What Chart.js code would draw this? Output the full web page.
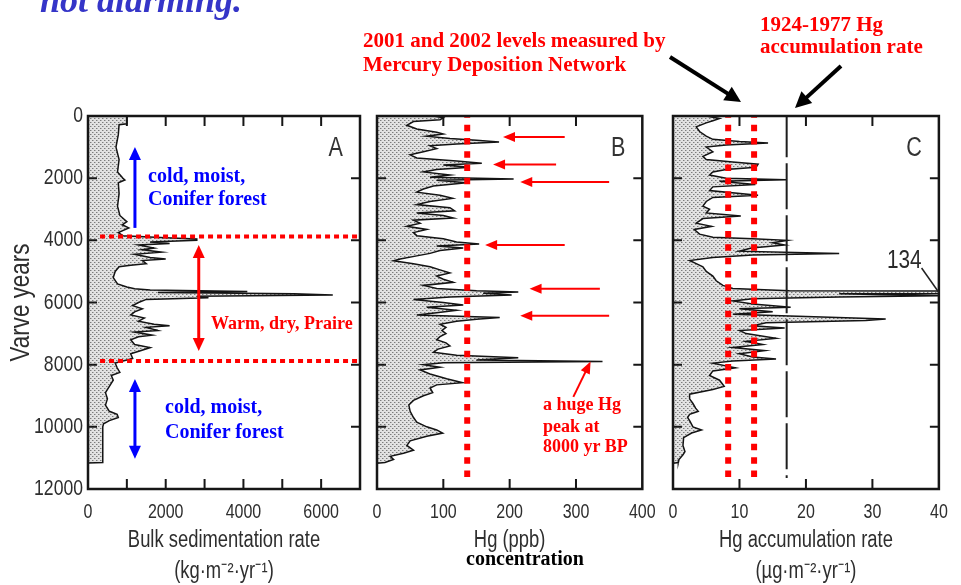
<!DOCTYPE html>
<html>
<head>
<meta charset="utf-8">
<script src="https://cdn.jsdelivr.net/npm/chart.js@4.4.0/dist/chart.umd.min.js"></script>
<style>
  body { margin: 0; background: #fff; }
  #page { position: relative; width: 961px; height: 585px; overflow: hidden; background: #fff; }
  #page canvas { position: absolute; top: 0; }
  .note { position: absolute; white-space: nowrap; line-height: 1;
          font-family: "Liberation Serif", "Times New Roman", serif; font-weight: bold; }
  .red { color: #ff0000; }
  .blue { color: #0000ff; }
</style>
</head>
<body>
<div id="page">
  <canvas id="coreA" width="374" height="585" style="left:0"></canvas>
  <canvas id="coreB" width="310" height="585" style="left:360px"></canvas>
  <canvas id="coreC" width="306" height="585" style="left:655px"></canvas>
  <canvas id="marks" width="961" height="585" style="left:0;pointer-events:none"></canvas>

  <div class="note" style="left:40px;top:-18px;font-size:36px;font-style:italic;color:#3535c8">not alarming.</div>

  <div class="note red" style="left:363px;top:30px;font-size:21px">2001 and 2002 levels measured by</div>
  <div class="note red" style="left:363px;top:54px;font-size:21px">Mercury Deposition Network</div>
  <div class="note red" style="left:760px;top:14px;font-size:21px">1924-1977 Hg</div>
  <div class="note red" style="left:760px;top:36px;font-size:21px">accumulation rate</div>

  <div class="note blue" style="left:148px;top:165px;font-size:20px">cold, moist,</div>
  <div class="note blue" style="left:148px;top:188px;font-size:20px">Conifer forest</div>
  <div class="note red" style="left:211px;top:314px;font-size:18px">Warm, dry, Praire</div>
  <div class="note blue" style="left:165px;top:396px;font-size:20px">cold, moist,</div>
  <div class="note blue" style="left:165px;top:421px;font-size:20px">Conifer forest</div>

  <div class="note red" style="left:543px;top:395px;font-size:18px">a huge Hg</div>
  <div class="note red" style="left:543px;top:417px;font-size:18px">peak at</div>
  <div class="note red" style="left:543px;top:437px;font-size:18px">8000 yr BP</div>

  <div class="note" style="left:525px;top:548px;font-size:20px;color:#000;transform:translateX(-50%)">concentration</div>
</div>

<script>
const SANS = "'Liberation Sans Narrow', 'Arial Narrow', 'Liberation Sans', Arial, sans-serif";
const INK = "#2e2e2e";

// ---- depth axis (varve years) ----
const innerYearTicks = [2000, 4000, 6000, 8000, 10000];

// ---- A: bulk sedimentation rate, kg m-2 yr-1 ----
const sedYears = [
  0, 250, 280, 600, 1000, 1400, 1800, 2000, 2060, 2150,
  2500, 2900, 3200, 3400, 3500, 3600, 3750, 3850, 3920, 3960,
  4000, 4050, 4100, 4150, 4250, 4300, 4380, 4450, 4550, 4600,
  4650, 4750, 4800, 4850, 5000, 5200, 5400, 5500, 5560, 5600,
  5650, 5680, 5720, 5760, 5800, 5850, 5900, 6000, 6100, 6200,
  6300, 6400, 6500, 6600, 6700, 6750, 6800, 6900, 6950, 7050,
  7100, 7200, 7350, 7450, 7550, 7650, 7800, 7880, 7950, 8100,
  8250, 8350, 8500, 8700, 8900, 9100, 9300, 9500, 9600, 9700,
  9800, 9900, 10000, 10500, 11000, 11150, 11160
];
const sedRate = [
  1000, 1000, 800, 780, 720, 800, 760, 900, 950, 780,
  800, 760, 820, 1000, 880, 1050, 780, 900, 2000, 2800,
  2800, 1600, 2100, 1300, 1700, 1400, 1900, 1200, 1600, 2000,
  1400, 1500, 1100, 800, 700, 650, 760, 1000, 1200, 1600,
  4100, 1800, 5300, 6300, 2800, 3100, 1500, 1300, 1150, 1400,
  1200, 1100, 1450, 1300, 1700, 2100, 1500, 1800, 1200, 1650,
  1300, 1100, 1200, 1600, 1350, 1100, 1150, 900, 700, 750,
  820, 600, 650, 550, 450, 500, 450, 550, 750, 780,
  550, 400, 380, 380, 380, 380, 0
];

// ---- B: Hg concentration, ppb ----
const hgYears = [
  0, 60, 120, 180, 300, 420, 520, 580, 650, 720,
  780, 840, 900, 960, 1050, 1150, 1250, 1350, 1450, 1520,
  1580, 1650, 1720, 1800, 1900, 1970, 2030, 2070, 2150, 2250,
  2350, 2450, 2550, 2650, 2750, 2850, 2950, 3050, 3120, 3200,
  3280, 3350, 3450, 3550, 3650, 3750, 3850, 3950, 4050, 4120,
  4180, 4250, 4330, 4420, 4500, 4600, 4660, 4750, 4850, 4950,
  5050, 5150, 5250, 5350, 5450, 5550, 5620, 5660, 5700, 5760,
  5820, 5900, 6000, 6080, 6150, 6250, 6330, 6400, 6480, 6540,
  6600, 6700, 6800, 6900, 7000, 7100, 7200, 7300, 7400, 7500,
  7600, 7700, 7780, 7850, 7900, 7940, 8000, 8080, 8170, 8300,
  8450, 8580, 8650, 8750, 8900, 9000, 9150, 9300, 9500, 9700,
  9850, 10000, 10100, 10200, 10300, 10450, 10600, 10750, 10850, 10950,
  11050, 11150, 11170
];
const hgPpb = [
  85, 100, 95, 55, 45, 60, 90, 100, 75, 110,
  150, 184, 120, 80, 90, 70, 50, 60, 120, 158,
  100, 140, 90, 70, 110, 80, 206, 90, 135, 85,
  70, 60, 95, 114, 80, 60, 110, 117, 60, 100,
  115, 55, 65, 45, 75, 55, 60, 100, 120, 154,
  90, 130, 95, 80, 60, 35, 25, 55, 80, 95,
  110, 90, 100, 115, 70, 90, 150, 213, 160, 203,
  110, 55, 100, 130, 75, 120, 90, 60, 185, 150,
  120, 95, 104, 98, 104, 95, 90, 104, 110, 92,
  85, 120, 213, 150, 340, 100, 70, 95, 65, 80,
  105, 129, 90, 80, 84, 70, 55, 48, 50, 55,
  60, 75, 90, 99, 75, 50, 45, 55, 40, 20,
  25, 12, 0
];

// ---- C: Hg accumulation rate, ug m-2 yr-1 ----
const fluxYears = [
  0, 80, 150, 220, 350, 500, 650, 750, 820, 870,
  930, 1000, 1150, 1300, 1400, 1480, 1550, 1650, 1720, 1800,
  1900, 2000, 2050, 2100, 2200, 2280, 2400, 2550, 2620, 2750,
  2900, 3000, 3120, 3220, 3300, 3450, 3550, 3650, 3800, 3900,
  3950, 4000, 4080, 4150, 4250, 4350, 4420, 4470, 4550, 4650,
  4750, 4850, 5000, 5150, 5300, 5450, 5550, 5620, 5680, 5720,
  5780, 5820, 5880, 5950, 6050, 6150, 6200, 6300, 6380, 6450,
  6530, 6580, 6650, 6750, 6820, 6900, 7000, 7150, 7250, 7350,
  7450, 7550, 7650, 7750, 7820, 7880, 7950, 8100, 8200, 8350,
  8500, 8700, 8800, 8950, 9100, 9250, 9400, 9500, 9600, 9700,
  9800, 10000, 10100, 10200, 10350, 10600, 10800, 10900, 11050, 11150,
  11170
];
const hgFlux = [
  5, 7, 6, 5, 3.5, 4, 5, 6, 10, 14.3,
  8, 5, 6, 4.5, 5, 9, 12.8, 12.5, 8, 6,
  5.5, 8, 17, 7, 12.4, 6, 5.5, 12.8, 6, 5,
  4.5, 5.5, 5, 10.2, 4.5, 3.5, 5.8, 3.2, 4, 6,
  12, 17.2, 15, 16.8, 11.8, 10, 25, 12, 6, 2.5,
  3.5, 4.5, 5, 6, 6.5, 7.5, 9, 17.5, 134, 25,
  40, 25, 12, 9, 12, 17.7, 10, 15, 9, 20,
  32, 29, 14, 12, 16.8, 10, 11, 15.5, 11, 13.5,
  9, 13.8, 10, 12, 15.5, 9, 6, 9.4, 6, 5.5,
  7, 7.7, 6, 2.5, 2.5, 3, 3.4, 3.8, 2.5, 2.2,
  2.5, 3, 4.3, 2.8, 1.6, 1.5, 1.8, 1.5, 0.9, 0.8,
  0
];

// ---- reference levels ----
const prairieBounds = [3880, 7880];  // years BP, dry interval
const mdnPpb = 136;                  // MDN 2001-2002 concentration
const mdnFlux = [8.3, 12.2];         // MDN 2001-2002 deposition
const histFlux = 17.1;               // 1924-1977 accumulation

// ---------- helpers ----------
const zip = (ys, vs) => ys.map((y, i) => ({ x: vs[i], y }));

// squeeze every label drawn on a canvas horizontally (narrow figure lettering)
function condense(canvas, k) {
  const ctx = canvas.getContext("2d");
  const fill = ctx.fillText.bind(ctx);
  ctx.fillText = function (t, x, y, w) {
    this.save();
    this.translate(x, y);
    this.scale(k, 1);
    if (w === undefined) fill(t, 0, 0); else fill(t, 0, 0, w / k);
    this.restore();
  };
}

function stipple(canvas) {
  const tile = document.createElement("canvas");
  tile.width = 4; tile.height = 4;
  const g = tile.getContext("2d");
  g.fillStyle = "#e2e2e2"; g.fillRect(0, 0, 4, 4);
  g.fillStyle = "#7c7c7c"; g.fillRect(0, 0, 1, 1); g.fillRect(2, 2, 1, 1);
  g.fillStyle = "#b4b4b4"; g.fillRect(1, 0, 1, 1); g.fillRect(3, 2, 1, 1);
  return canvas.getContext("2d").createPattern(tile, "repeat");
}

function profile(canvas, ys, vs) {
  return {
    data: zip(ys, vs), order: 2,
    borderColor: "#141414", borderWidth: 1.5,
    backgroundColor: stipple(canvas), fill: "origin",
    pointRadius: 0, tension: 0
  };
}

function refLine(points, color, width, dash) {
  return {
    data: points, order: 1, fill: false, pointRadius: 0,
    borderColor: color, borderWidth: width, borderDash: dash, borderCapStyle: "butt"
  };
}

function head(ctx, x, y, ang, len, half) {
  ctx.beginPath();
  ctx.moveTo(x, y);
  ctx.lineTo(x - len * Math.cos(ang) + half * Math.sin(ang), y - len * Math.sin(ang) - half * Math.cos(ang));
  ctx.lineTo(x - len * Math.cos(ang) - half * Math.sin(ang), y - len * Math.sin(ang) + half * Math.cos(ang));
  ctx.closePath();
  ctx.fill();
}

function arrow(ctx, x0, y0, x1, y1, o) {
  const ang = Math.atan2(y1 - y0, x1 - x0);
  const c = Math.cos(ang), s = Math.sin(ang), k = o.len * 0.8;
  ctx.strokeStyle = o.color; ctx.fillStyle = o.color; ctx.lineWidth = o.width;
  ctx.beginPath();
  ctx.moveTo(o.both ? x0 + c * k : x0, o.both ? y0 + s * k : y0);
  ctx.lineTo(x1 - c * k, y1 - s * k);
  ctx.stroke();
  head(ctx, x1, y1, ang, o.len, o.half);
  if (o.both) head(ctx, x0, y0, ang + Math.PI, o.len, o.half);
}

// box, inward ticks and panel letter
const framePlugin = {
  id: "frame",
  afterDatasetsDraw(chart, args, opts) {
    const { ctx, chartArea: a, scales: { x, y } } = chart;
    ctx.save();
    ctx.strokeStyle = "#161616";
    ctx.lineWidth = 2.5;
    ctx.strokeRect(a.left, a.top, a.right - a.left, a.bottom - a.top);
    ctx.lineWidth = 2;
    ctx.beginPath();
    opts.xTicks.forEach(v => {
      const px = x.getPixelForValue(v);
      ctx.moveTo(px, a.top); ctx.lineTo(px, a.top + 10);
      ctx.moveTo(px, a.bottom); ctx.lineTo(px, a.bottom - 10);
    });
    innerYearTicks.forEach(v => {
      const py = y.getPixelForValue(v);
      ctx.moveTo(a.left, py); ctx.lineTo(a.left + 9, py);
      ctx.moveTo(a.right, py); ctx.lineTo(a.right - 9, py);
    });
    ctx.stroke();
    ctx.fillStyle = "#333";
    ctx.font = "27px " + SANS;
    ctx.textAlign = "right";
    ctx.textBaseline = "alphabetic";
    ctx.fillText(opts.letter, a.right - 17, a.top + 40);
    ctx.restore();
  }
};

// arrows and small labels placed in data units
const notesPlugin = {
  id: "notes",
  afterDraw(chart, args, opts) {
    const { ctx, scales: { x, y } } = chart;
    ctx.save();
    (opts.arrows || []).forEach(ar => {
      arrow(ctx, x.getPixelForValue(ar.from[0]), y.getPixelForValue(ar.from[1]),
                 x.getPixelForValue(ar.to[0]), y.getPixelForValue(ar.to[1]), ar);
    });
    (opts.leaders || []).forEach(l => {
      ctx.strokeStyle = "#222"; ctx.lineWidth = 1.5;
      ctx.beginPath();
      ctx.moveTo(x.getPixelForValue(l.from[0]), y.getPixelForValue(l.from[1]));
      ctx.lineTo(x.getPixelForValue(l.to[0]), y.getPixelForValue(l.to[1]));
      ctx.stroke();
      ctx.fillStyle = "#2a2a2a"; ctx.font = "26px " + SANS;
      ctx.textAlign = "right"; ctx.textBaseline = "alphabetic";
      ctx.fillText(l.text, x.getPixelForValue(l.from[0]), y.getPixelForValue(l.from[1]));
    });
    ctx.restore();
  }
};

function xAxis(max, step, title, labelEvery) {
  return {
    type: "linear", min: 0, max,
    grid: { display: false, drawTicks: false },
    border: { display: false },
    ticks: {
      stepSize: step, autoSkip: false, maxRotation: 0, padding: 11,
      color: INK, font: { family: SANS, size: 20 },
      callback: v => (v % labelEvery === 0 ? String(v) : "")
    },
    title: {
      display: true, text: title, color: INK,
      font: { family: SANS, size: 23, lineHeight: 1.35 },
      padding: { top: 0, bottom: -2 }
    },
    afterFit(s) { s.height = 96; }
  };
}

function yAxis(show) {
  return {
    type: "linear", reverse: true, min: 0, max: 12000, display: show,
    grid: { display: false, drawTicks: false },
    border: { display: false },
    ticks: { stepSize: 2000, padding: 5, color: INK, font: { family: SANS, size: 22 }, callback: v => String(v) },
    title: {
      display: show, text: "Varve years", color: INK,
      font: { family: SANS, size: 28, lineHeight: 1.2 },
      padding: { top: 4, bottom: 0 }
    },
    afterFit(s) { if (show) s.width = 88; }
  };
}

function baseOptions(padding, xScale, yScale, plugins) {
  return {
    indexAxis: "y",
    responsive: false,
    animation: false,
    events: [],
    layout: { padding },
    scales: { x: xScale, y: yScale },
    plugins: Object.assign({ legend: { display: false }, tooltip: { enabled: false } }, plugins)
  };
}

const red = "#ff0000", blue = "#0000ff";
const NARROW = 0.8;

// ---------- A ----------
const canvasA = document.getElementById("coreA");
condense(canvasA, NARROW);
new Chart(canvasA, {
  type: "line",
  data: {
    datasets: [
      profile(canvasA, sedYears, sedRate),
      ...prairieBounds.map(yr => refLine([{ x: 310, y: yr }, { x: 6940, y: yr }], red, 4, [5, 4]))
    ]
  },
  options: baseOptions({ left: 0, right: 14, top: 116, bottom: 0 },
    xAxis(7000, 1000, ["Bulk sedimentation rate", "(kg·m⁻²·yr⁻¹)"], 2000),
    yAxis(true),
    {
      frame: { letter: "A", xTicks: [1000, 2000, 3000, 4000, 5000, 6000] },
      notes: {
        arrows: [
          { from: [1208, 3600], to: [1208, 1000], color: blue, width: 3, len: 13, half: 6, both: false },
          { from: [2850, 4150], to: [2850, 7560], color: red, width: 3, len: 13, half: 6, both: true },
          { from: [1208, 8460], to: [1208, 11030], color: blue, width: 3, len: 13, half: 6, both: true }
        ]
      }
    }),
  plugins: [framePlugin, notesPlugin]
});

// ---------- B ----------
const canvasB = document.getElementById("coreB");
condense(canvasB, NARROW);
const arrowB = { color: red, width: 2, len: 12, half: 5, both: false };
new Chart(canvasB, {
  type: "line",
  data: {
    datasets: [
      profile(canvasB, hgYears, hgPpb),
      refLine([{ x: mdnPpb, y: -150 }, { x: mdnPpb, y: 11650 }], red, 6, [6.5, 6.8])
    ]
  },
  options: baseOptions({ left: 17, right: 23, top: 116, bottom: 0 },
    xAxis(400, 100, ["Hg (ppb)", ""], 100),
    yAxis(false),
    {
      frame: { letter: "B", xTicks: [100, 200, 300] },
      notes: {
        arrows: [
          { from: [283, 675], to: [190, 675], ...arrowB },
          { from: [270, 1560], to: [175, 1560], ...arrowB },
          { from: [350, 2120], to: [216, 2120], ...arrowB },
          { from: [283, 4150], to: [163, 4150], ...arrowB },
          { from: [336, 5560], to: [230, 5560], ...arrowB },
          { from: [350, 6430], to: [216, 6430], ...arrowB },
          { from: [296, 9035], to: [322, 7900], ...arrowB }
        ]
      }
    }),
  plugins: [framePlugin, notesPlugin]
});

// ---------- C ----------
const canvasC = document.getElementById("coreC");
condense(canvasC, NARROW);
new Chart(canvasC, {
  type: "line",
  data: {
    datasets: [
      profile(canvasC, fluxYears, hgFlux),
      ...mdnFlux.map(v => refLine([{ x: v, y: -150 }, { x: v, y: 11650 }], red, 6, [6.5, 6.8])),
      refLine([{ x: histFlux, y: -150 }, { x: histFlux, y: 11650 }], "#1e1e1e", 2, [46, 6])
    ]
  },
  options: baseOptions({ left: 18, right: 17, top: 116, bottom: 0 },
    xAxis(40, 10, ["Hg accumulation rate", "(µg·m⁻²·yr⁻¹)"], 10),
    yAxis(false),
    {
      frame: { letter: "C", xTicks: [10, 20, 30] },
      notes: { leaders: [{ text: "134", from: [37.4, 4890], to: [40, 5680] }] }
    }),
  plugins: [framePlugin, notesPlugin]
});

// ---------- slide arrows ----------
const mk = document.getElementById("marks").getContext("2d");
const blackArrow = { color: "#000", width: 4, len: 16, half: 8, both: false };
arrow(mk, 670, 57, 741, 102, blackArrow);
arrow(mk, 841, 66, 795, 108, blackArrow);
</script>
</body>
</html>
